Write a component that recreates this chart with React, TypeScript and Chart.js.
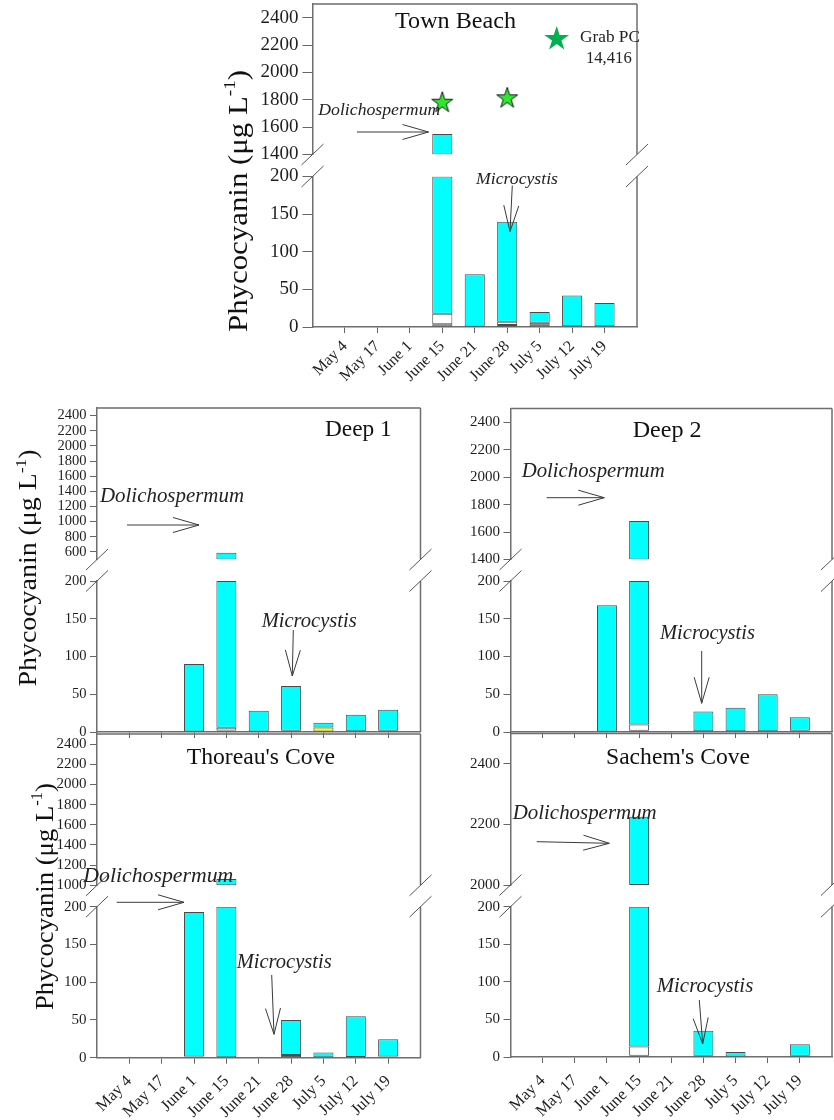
import React, { useEffect, useRef } from 'react';
import { Chart, registerables } from 'chart.js';

Chart.register(...registerables);

const SERIF = "'Liberation Serif', 'Times New Roman', serif";

// ---------------- data ----------------
const dates = ['May 4', 'May 17', 'June 1', 'June 15', 'June 21', 'June 28', 'July 5', 'July 12', 'July 19'];

const lowerTicks = [0, 50, 100, 150, 200];
const tbUpperTicks = [1400, 1600, 1800, 2000, 2200, 2400];
const d1UpperTicks = [600, 800, 1000, 1200, 1400, 1600, 1800, 2000, 2200, 2400];
const d2UpperTicks = [1400, 1600, 1800, 2000, 2200, 2400];
const thUpperTicks = [1000, 1200, 1400, 1600, 1800, 2000, 2200, 2400];
const scUpperTicks = [2000, 2200, 2400];

// Town Beach
const tbBlack = [0, 0, 0, 0, 0, 0, 1, 1, 1];
const tbYellow = [0, 0, 0, 3.5, 0, 2.5, 0, 0, 0];
const tbGrey = [0, 0, 0, 0, 0, 0, 4.5, 0, 0];
const tbWhite = [0, 0, 0, 14, 0, 4.5, 0, 0, 0];
const tbCyan = [0, 0, 0, 1532, 70, 133, 14.5, 41, 31];
const tbGrabPC = [null, null, null, 1786, null, 1818, null, null, null];

// Deep 1
const d1Black = [0, 0, 0, 2, 0, 1.5, 0, 1, 1.5];
const d1Yellow = [0, 0, 0, 0, 0, 0, 6, 0, 0];
const d1Grey = [0, 0, 0, 0, 0, 0, 0, 0, 0];
const d1White = [0, 0, 0, 3.5, 0, 0, 0, 0, 0];
const d1Cyan = [0, 0, 90, 584.5, 28, 59.5, 6.3, 22, 28];

// Deep 2
const d2Black = [0, 0, 0, 1.5, 0, 1, 1, 1, 1.5];
const d2Yellow = [0, 0, 0, 0, 0, 0, 0, 0, 0];
const d2Grey = [0, 0, 0, 0, 0, 0, 0, 0, 0];
const d2White = [0, 0, 0, 8.5, 0, 0, 0, 0, 0];
const d2Cyan = [0, 0, 168, 1670, 0, 26, 31, 49, 18];

// Thoreau's Cove
const thBlack = [0, 0, 1.5, 0, 0, 3.5, 0, 1, 1.5];
const thYellow = [0, 0, 0, 0, 0, 0, 0, 0, 0];
const thGrey = [0, 0, 0, 0, 0, 0, 0, 0, 0];
const thWhite = [0, 0, 0, 0, 0, 0, 0, 0, 0];
const thCyan = [0, 0, 191.5, 1062, 0, 46.5, 7, 54, 23];

// Sachem's Cove
const scBlack = [0, 0, 0, 1.5, 0, 1.5, 0.5, 0, 1.5];
const scYellow = [0, 0, 0, 0, 0, 0, 0, 0, 0];
const scGrey = [0, 0, 0, 0, 0, 0, 0, 0, 0];
const scWhite = [0, 0, 0, 12.5, 0, 0, 0, 0, 0];
const scCyan = [0, 0, 0, 2211, 0, 33.5, 6, 0, 15.5];

// ---------------- styles / layout ----------------
const CYAN = '#00ffff';
const EDGE = '#4a4a4a';
const FRAME = '#6e6e6e';
const INK = '#1e1e1e';
const seriesOrder = ['black', 'yellow', 'grey', 'white', 'cyan'];
const seriesColors: Record<string, string> = {
  black: '#26261a',
  yellow: '#ffff00',
  grey: '#8a8a8a',
  white: '#ffffff',
  cyan: CYAN,
};

const xLabels = ['', ...dates, ''];
const pad = (a: any[]) => [null, ...a, null];

interface Box { left: number; right: number; upTop: number; upBot: number; loTop: number; loBot: number; }
interface PanelDef {
  id: string;
  series: Record<string, number[]>;
  grab?: (number | null)[];
  upperMin: number;
  upperMax: number;
  upperTicks: number[];
  box: Box;
  yFont: number;
  yTickLen: number;
  yPad: number;
  xFont: number;
  xPad: number;
  showX: boolean;
}

const panels: PanelDef[] = [
  {
    id: 'tb',
    series: { black: tbBlack, yellow: tbYellow, grey: tbGrey, white: tbWhite, cyan: tbCyan },
    grab: tbGrabPC,
    upperMin: 1400, upperMax: 2500, upperTicks: tbUpperTicks,
    box: { left: 312.5, right: 637, upTop: 4, upBot: 154.5, loTop: 176.5, loBot: 327 },
    yFont: 19, yTickLen: 10, yPad: 4, xFont: 16, xPad: 4, showX: true,
  },
  {
    id: 'd1',
    series: { black: d1Black, yellow: d1Yellow, grey: d1Grey, white: d1White, cyan: d1Cyan },
    upperMin: 500, upperMax: 2500, upperTicks: d1UpperTicks,
    box: { left: 97, right: 420.5, upTop: 408, upBot: 559.5, loTop: 581, loBot: 732 },
    yFont: 14.5, yTickLen: 7, yPad: 3.5, xFont: 16, xPad: 1, showX: false,
  },
  {
    id: 'd2',
    series: { black: d2Black, yellow: d2Yellow, grey: d2Grey, white: d2White, cyan: d2Cyan },
    upperMin: 1400, upperMax: 2500, upperTicks: d2UpperTicks,
    box: { left: 510.5, right: 832, upTop: 408.5, upBot: 559.5, loTop: 581, loBot: 732 },
    yFont: 15, yTickLen: 7, yPad: 3.5, xFont: 16, xPad: 1, showX: false,
  },
  {
    id: 'th',
    series: { black: thBlack, yellow: thYellow, grey: thGrey, white: thWhite, cyan: thCyan },
    upperMin: 1000, upperMax: 2500, upperTicks: thUpperTicks,
    box: { left: 97, right: 420.5, upTop: 734, upBot: 885.3, loTop: 906.7, loBot: 1057.7 },
    yFont: 15, yTickLen: 7, yPad: 3.5, xFont: 16.5, xPad: 8, showX: true,
  },
  {
    id: 'sc',
    series: { black: scBlack, yellow: scYellow, grey: scGrey, white: scWhite, cyan: scCyan },
    upperMin: 2000, upperMax: 2500, upperTicks: scUpperTicks,
    box: { left: 510.5, right: 832, upTop: 733.5, upBot: 885, loTop: 906.7, loBot: 1057 },
    yFont: 15, yTickLen: 7, yPad: 3.5, xFont: 16.5, xPad: 8, showX: true,
  },
];

const titles = [
  { text: 'Town Beach', x: 395, y: 28.3, w: 121, size: 24 },
  { text: 'Deep 1', x: 325, y: 436, w: 66.7, size: 23 },
  { text: 'Deep 2', x: 632.7, y: 437.3, w: 69, size: 23 },
  { text: "Thoreau's Cove", x: 186.7, y: 764, w: 148.3, size: 23.5 },
  { text: "Sachem's Cove", x: 606, y: 764, w: 144, size: 23.5 },
];

const notes = [
  { text: 'Dolichospermum', x: 318.3, y: 115, w: 122, size: 17.5 },
  { text: 'Microcystis', x: 476, y: 184, w: 82, size: 17.5 },
  { text: 'Dolichospermum', x: 100, y: 501.5, w: 144, size: 20.5 },
  { text: 'Microcystis', x: 261.7, y: 626.7, w: 95, size: 20.5 },
  { text: 'Dolichospermum', x: 521.7, y: 477.3, w: 143, size: 20.5 },
  { text: 'Microcystis', x: 660, y: 639.3, w: 95, size: 20.5 },
  { text: 'Dolichospermum', x: 83.3, y: 881.7, w: 150, size: 21 },
  { text: 'Microcystis', x: 236.7, y: 968.3, w: 95, size: 20.5 },
  { text: 'Dolichospermum', x: 512.7, y: 819, w: 144, size: 20.5 },
  { text: 'Microcystis', x: 656.7, y: 992.3, w: 96.6, size: 20.5 },
];

const arrows = [
  { x1: 357, y1: 132, x2: 428.5, y2: 132 },
  { x1: 512.3, y1: 185.5, x2: 510, y2: 231.5 },
  { x1: 127, y1: 525, x2: 199, y2: 525 },
  { x1: 293.3, y1: 630, x2: 292.3, y2: 676 },
  { x1: 546.7, y1: 497.7, x2: 604.3, y2: 497.7 },
  { x1: 701.7, y1: 651, x2: 701.7, y2: 703.3 },
  { x1: 116.7, y1: 902.3, x2: 184, y2: 902.3 },
  { x1: 271.7, y1: 975, x2: 274, y2: 1034.3 },
  { x1: 536.7, y1: 841.7, x2: 609.3, y2: 843.3 },
  { x1: 699.3, y1: 1000, x2: 702.7, y2: 1044 },
];

const yTitles = [
  { bx: 247, cy: 201, len: 262, size: 28 },
  { bx: 36, cy: 568, len: 237, size: 25 },
  { bx: 53, cy: 896.5, len: 227, size: 26 },
];

// ---------------- helpers ----------------
function starPoints(cx: number, cy: number, R: number) {
  const pts: string[] = [];
  for (let i = 0; i < 10; i++) {
    const a = -Math.PI / 2 + (i * Math.PI) / 5;
    const r = i % 2 ? R * 0.382 : R;
    pts.push(`${(cx + r * Math.cos(a)).toFixed(2)},${(cy + r * Math.sin(a)).toFixed(2)}`);
  }
  return pts.join(' ');
}

function makeStarCanvas(R: number, fill: string, stroke: string) {
  const s = Math.ceil(2 * R + 4);
  const c = document.createElement('canvas');
  c.width = s;
  c.height = s;
  const g = c.getContext('2d')!;
  g.beginPath();
  for (let i = 0; i < 10; i++) {
    const a = -Math.PI / 2 + (i * Math.PI) / 5;
    const r = i % 2 ? R * 0.382 : R;
    const x = s / 2 + r * Math.cos(a);
    const y = s / 2 + 1 + r * Math.sin(a);
    if (i === 0) g.moveTo(x, y);
    else g.lineTo(x, y);
  }
  g.closePath();
  g.fillStyle = fill;
  g.fill();
  g.lineWidth = 1;
  g.strokeStyle = stroke;
  g.stroke();
  return c;
}

function framePlugin(part: 'upper' | 'lower') {
  return {
    id: 'panelFrame_' + part,
    afterDraw(chart: any) {
      const { left, right, top, bottom } = chart.chartArea;
      const ctx = chart.ctx;
      ctx.save();
      ctx.strokeStyle = FRAME;
      ctx.lineWidth = 1.5;
      ctx.beginPath();
      if (part === 'upper') {
        ctx.moveTo(left, top);
        ctx.lineTo(right, top);
      }
      ctx.moveTo(right, top);
      ctx.lineTo(right, bottom);
      ctx.stroke();
      // axis break marks
      const yb = part === 'upper' ? bottom : top;
      ctx.strokeStyle = '#555';
      ctx.lineWidth = 1;
      ctx.beginPath();
      for (const x of [left, right]) {
        ctx.moveTo(x - 11, yb + 10.5);
        ctx.lineTo(x + 11, yb - 10.5);
      }
      ctx.stroke();
      ctx.restore();
    },
  };
}

function PanelChart({ p }: { p: PanelDef }) {
  const upRef = useRef<HTMLCanvasElement>(null);
  const loRef = useRef<HTMLCanvasElement>(null);
  const b = p.box;
  const yW = 80;
  const X0 = Math.floor(b.left) - 100;
  const Y0 = Math.floor(b.upTop) - 20;
  const W = Math.ceil(b.right + 45 - X0);
  const H = Math.ceil(b.loBot + 75 - Y0);
  const padL = b.left - X0 - yW;
  const padR = W - (b.right - X0);
  const xH = p.showX ? 70 : 12;

  useEffect(() => {
    const n = dates.length;
    const below: number[] = [];
    const totals: number[] = [];
    for (let i = 0; i < n; i++) {
      let s = 0;
      for (const k of seriesOrder) if (k !== 'cyan') s += p.series[k][i] || 0;
      below.push(s);
      totals.push(s + (p.series.cyan[i] || 0));
    }

    const yTickOpts = {
      font: { family: SERIF, size: p.yFont },
      color: INK,
      padding: p.yPad,
      autoSkip: false,
      callback: (v: any) => String(v),
    };
    const yGrid = { drawOnChartArea: false, tickLength: p.yTickLen, color: '#666', lineWidth: 1 };
    const yBorder = { color: FRAME, width: 1.5 };

    const upDatasets: any[] = [
      {
        type: 'bar',
        label: 'Phycocyanin (upper)',
        data: pad(totals.map((t) => (t > p.upperMin ? [p.upperMin, t] : null))),
        backgroundColor: CYAN,
        borderColor: EDGE,
        borderWidth: 1,
        borderSkipped: false,
        barPercentage: 0.62,
        categoryPercentage: 1,
      },
    ];
    if (p.grab) {
      upDatasets.push({
        type: 'line',
        label: 'Grab PC',
        data: pad(p.grab),
        showLine: false,
        pointStyle: makeStarCanvas(11, '#2ee82e', '#1a1a1a'),
        pointRadius: 11,
      });
    }

    const upper = new Chart(upRef.current!, {
      type: 'bar',
      data: { labels: xLabels, datasets: upDatasets },
      options: {
        animation: false,
        responsive: false,
        events: [],
        layout: { padding: { left: padL, right: padR, top: b.upTop - Y0, bottom: H - (b.upBot - Y0) } },
        plugins: { legend: { display: false }, tooltip: { enabled: false } },
        scales: {
          x: { display: false, offset: false, grid: { display: false, offset: false } },
          y: {
            min: p.upperMin,
            max: p.upperMax,
            afterBuildTicks: (axis: any) => {
              axis.ticks = p.upperTicks.map((v) => ({ value: v }));
            },
            afterFit: (s: any) => {
              s.width = yW;
            },
            ticks: yTickOpts,
            grid: yGrid,
            border: yBorder,
          },
        },
      } as any,
      plugins: [framePlugin('upper')],
    });

    const loDatasets = seriesOrder.map((k) => ({
      type: 'bar',
      label: k,
      data: pad(
        p.series[k].map((v, i) => {
          if (!v) return null;
          if (k === 'cyan') return Math.min(v, 200 - below[i]);
          return v;
        })
      ),
      backgroundColor: seriesColors[k],
      borderColor: EDGE,
      borderWidth: 1,
      borderSkipped: false,
      barPercentage: 0.62,
      categoryPercentage: 1,
    }));

    const lower = new Chart(loRef.current!, {
      type: 'bar',
      data: { labels: xLabels, datasets: loDatasets as any },
      options: {
        animation: false,
        responsive: false,
        events: [],
        layout: { padding: { left: padL, right: padR, top: b.loTop - Y0, bottom: H - (b.loBot - Y0) - xH } },
        plugins: { legend: { display: false }, tooltip: { enabled: false } },
        scales: {
          x: {
            stacked: true,
            offset: false,
            grid: {
              offset: false,
              drawOnChartArea: false,
              tickLength: 6,
              lineWidth: 1,
              color: (c: any) => (c.index === 0 || c.index === xLabels.length - 1 ? 'rgba(0,0,0,0)' : '#666'),
            },
            border: { color: FRAME, width: 1.5 },
            ticks: {
              display: p.showX,
              autoSkip: false,
              minRotation: 45,
              maxRotation: 45,
              padding: p.xPad,
              font: { family: SERIF, size: p.xFont },
              color: INK,
            },
            afterFit: (s: any) => {
              s.height = xH;
            },
          },
          y: {
            stacked: true,
            min: 0,
            max: 200,
            afterBuildTicks: (axis: any) => {
              axis.ticks = lowerTicks.map((v) => ({ value: v }));
            },
            afterFit: (s: any) => {
              s.width = yW;
            },
            ticks: yTickOpts,
            grid: yGrid,
            border: yBorder,
          },
        },
      } as any,
      plugins: [framePlugin('lower')],
    });

    return () => {
      upper.destroy();
      lower.destroy();
    };
  }, []);

  const style: React.CSSProperties = { position: 'absolute', left: X0, top: Y0, width: W, height: H };
  return (
    <>
      <canvas ref={upRef} width={W} height={H} style={style} />
      <canvas ref={loRef} width={W} height={H} style={style} />
    </>
  );
}

function Overlay() {
  const L = 26;
  const hw = 7.5;
  return (
    <svg
      width={834}
      height={1120}
      style={{ position: 'absolute', left: 0, top: 0, pointerEvents: 'none' }}
      fontFamily={SERIF}
    >
      {titles.map((t, i) => (
        <text key={'t' + i} x={t.x} y={t.y} fontSize={t.size} fill="#111" textLength={t.w} lengthAdjust="spacingAndGlyphs">
          {t.text}
        </text>
      ))}
      {notes.map((t, i) => (
        <text
          key={'n' + i}
          x={t.x}
          y={t.y}
          fontSize={t.size}
          fontStyle="italic"
          fill="#222"
          textLength={t.w}
          lengthAdjust="spacingAndGlyphs"
        >
          {t.text}
        </text>
      ))}
      {arrows.map((a, i) => {
        const dx = a.x2 - a.x1;
        const dy = a.y2 - a.y1;
        const len = Math.hypot(dx, dy);
        const ux = dx / len;
        const uy = dy / len;
        const bx = a.x2 - ux * L;
        const by = a.y2 - uy * L;
        const nx = -uy * hw;
        const ny = ux * hw;
        return (
          <g key={'a' + i} stroke="#3a3a3a" strokeWidth={1} fill="none">
            <line x1={a.x1} y1={a.y1} x2={a.x2} y2={a.y2} />
            <polyline points={`${bx + nx},${by + ny} ${a.x2},${a.y2} ${bx - nx},${by - ny}`} />
          </g>
        );
      })}
      {yTitles.map((t, i) => (
        <text
          key={'y' + i}
          transform={`translate(${t.bx},${t.cy}) rotate(-90)`}
          textAnchor="middle"
          fontSize={t.size}
          fill="#111"
          textLength={t.len}
          lengthAdjust="spacingAndGlyphs"
        >
          Phycocyanin (μg L
          <tspan fontSize={t.size * 0.62} dy={-t.size * 0.42}>
            -1
          </tspan>
          <tspan dy={t.size * 0.42}>)</tspan>
        </text>
      ))}
      {/* Grab PC key */}
      <polygon points={starPoints(556.7, 39, 13)} fill="#00b04f" />
      <text x={580} y={41.7} fontSize={17.5} fill="#222" textLength={60} lengthAdjust="spacingAndGlyphs">
        Grab PC
      </text>
      <text x={586} y={63.3} fontSize={17} fill="#222" textLength={45.7} lengthAdjust="spacingAndGlyphs">
        14,416
      </text>
    </svg>
  );
}

export default function App() {
  return (
    <div
      style={{
        position: 'absolute',
        left: 0,
        top: 0,
        width: 834,
        height: 1120,
        overflow: 'hidden',
        background: '#fff',
      }}
    >
      {panels.map((p) => (
        <PanelChart key={p.id} p={p} />
      ))}
      <Overlay />
    </div>
  );
}
